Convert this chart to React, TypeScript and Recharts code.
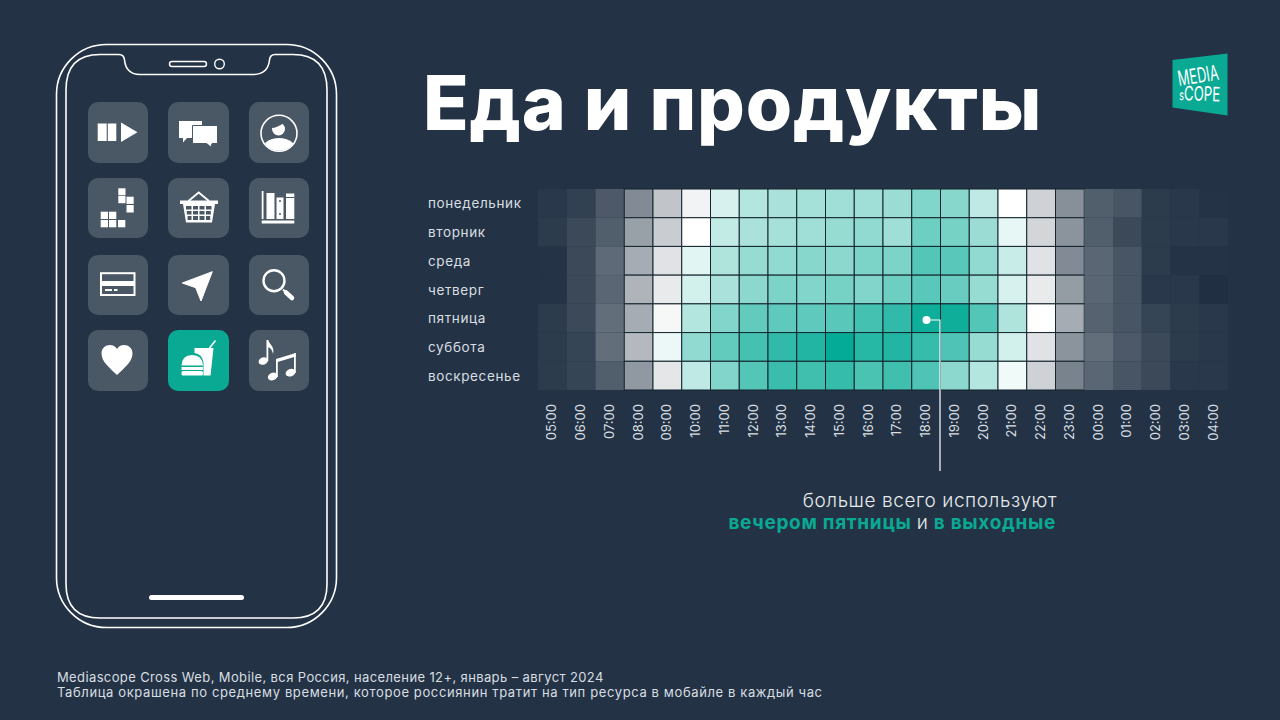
import React from 'react';
import { ScatterChart, Scatter, XAxis, YAxis } from 'recharts';

const hours = ['05:00', '06:00', '07:00', '08:00', '09:00', '10:00', '11:00', '12:00', '13:00', '14:00', '15:00', '16:00', '17:00', '18:00', '19:00', '20:00', '21:00', '22:00', '23:00', '00:00', '01:00', '02:00', '03:00', '04:00'];
const weekdays = ['понедельник', 'вторник', 'среда', 'четверг', 'пятница', 'суббота', 'воскресенье'];

// 0 = dark, 50 = white, 100 = full teal
const monday = [2, 4, 10, 22, 36, 47, 58, 65, 67, 68, 69, 69, 70, 75, 74, 63, 50, 39, 23, 11, 9, 3, 2, 1];
const tuesday = [3, 6, 11, 27, 38, 50, 62, 67, 68, 69, 71, 72, 69, 79, 77, 70, 55, 40, 24, 11, 6, 3, 2, 2];
const wednesday = [1, 6, 14, 30, 43, 56, 66, 71, 72, 74, 73, 76, 76, 84, 83, 72, 61, 43, 22, 13, 9, 3, 1, 1];
const thursday = [1, 6, 13, 32, 45, 59, 67, 73, 76, 75, 77, 75, 79, 83, 80, 71, 58, 45, 26, 13, 9, 2, 2, 0];
const friday = [3, 6, 15, 30, 48, 65, 75, 81, 82, 82, 83, 87, 91, 98, 98, 84, 66, 50, 30, 12, 9, 5, 3, 2];
const saturday = [3, 5, 15, 33, 54, 72, 81, 87, 91, 94, 100, 93, 94, 90, 85, 71, 59, 43, 24, 15, 10, 6, 3, 2];
const sunday = [3, 5, 11, 25, 44, 63, 75, 84, 89, 88, 90, 86, 88, 85, 73, 65, 53, 39, 20, 13, 9, 6, 2, 2];

const rows = [monday, tuesday, wednesday, thursday, friday, saturday, sunday];
const cells = rows.flatMap((row, y) => row.map((value, x) => ({ x, y, value })));

const BG = '#233345';
const TEAL = '#0aa994';
const TILE = '#4a5764';
const CELL_W = 28.75;
const CELL_H = 28.7;
const FONT = 'Inter, "Noto Sans", sans-serif';

const mix = (a: number[], b: number[], t: number) =>
  `rgb(${a.map((c, i) => Math.round(c + (b[i] - c) * t)).join(',')})`;

const cellColor = (v: number) =>
  v <= 50
    ? mix([32, 48, 66], [255, 255, 255], v / 50)
    : mix([255, 255, 255], [4, 171, 150], (v - 50) / 50);

// the dark grid only shows once the cells get lighter
const HeatCell = (props: any) => {
  const fill = cellColor(props.payload.value);
  const lit = props.payload.value >= 20;
  return (
    <rect
      x={props.cx - CELL_W / 2}
      y={props.cy - CELL_H / 2}
      width={CELL_W}
      height={CELL_H}
      fill={fill}
      stroke={lit ? '#16262f' : fill}
      strokeWidth={lit ? 1 : 0}
    />
  );
};

const HourTick = ({ x, payload }: any) => (
  <text
    transform={`translate(${x + 4},404) rotate(-90)`}
    textAnchor="end"
    fontFamily={FONT}
    fontSize={13}
    fill="#d9dee2"
  >
    {hours[payload.value]}
  </text>
);

const DayTick = ({ y, payload }: any) => (
  <text x={428} y={y + 5} fontFamily={FONT} fontSize={13.5} letterSpacing={0.62} fill="#d9dee2">
    {weekdays[payload.value]}
  </text>
);

const Tile = ({ x, y, w = 60, h = 61, fill = TILE }: any) => (
  <rect x={x} y={y} width={w} height={h} rx={10} fill={fill} />
);

const Phone = () => (
  <svg width={1280} height={720} style={{ position: 'absolute', left: 0, top: 0 }}>
    <rect x={56.5} y={44.5} width={280} height={583} rx={50} fill="none" stroke="#fff" strokeWidth={1.6} />
    <path
      d="M100 54.5 H119 Q124 54.5 124.5 60 Q126 74.5 140 74.5 H253 Q268 74.5 269.5 60 Q270 54.5 275 54.5 H293 Q327 54.5 327 90 V584 Q327 618 293 618 H100 Q66 618 66 584 V90 Q66 54.5 100 54.5 Z"
      fill="none"
      stroke="#fff"
      strokeWidth={1.6}
    />
    <rect x={169.5} y={61.5} width={37} height={5} rx={2.5} fill="none" stroke="#fff" strokeWidth={1.4} />
    <circle cx={219.5} cy={64} r={4.8} fill="none" stroke="#fff" strokeWidth={1.4} />
    <rect x={149} y={595} width={95} height={5} rx={2.5} fill="#fff" />

    <Tile x={88} y={102} />
    <Tile x={168} y={102} w={61} />
    <Tile x={249} y={102} />
    <Tile x={88} y={178} h={60} />
    <Tile x={168} y={178} w={61} h={60} />
    <Tile x={249} y={178} h={60} />
    <Tile x={88} y={255} h={60} />
    <Tile x={168} y={255} w={61} h={60} />
    <Tile x={249} y={255} h={60} />
    <Tile x={88} y={330} />
    <Tile x={168} y={330} w={61} fill={TEAL} />
    <Tile x={249} y={330} />

    {/* play */}
    <g fill="#fff">
      <rect x={97.7} y={123.5} width={9} height={17.5} />
      <rect x={107.8} y={123.5} width={8.5} height={17.5} />
      <path d="M121 122.5 L137.5 132.2 L121 142 Z" />
    </g>
    {/* chat */}
    <g>
      <path d="M179 121 H202 V138 H187 L183 142.5 V138 H179 Z" fill="#fff" />
      <path d="M192.5 125.5 H217.5 V143.5 H212 L211 147 L206.5 143.5 H192.5 Z" fill="#fff" stroke={TILE} strokeWidth={1} />
    </g>
    {/* profile */}
    <g>
      <defs>
        <clipPath id="avatar">
          <circle cx={279} cy={133.3} r={17.5} />
        </clipPath>
      </defs>
      <circle cx={279} cy={133.3} r={18} fill="none" stroke="#fff" strokeWidth={1.6} />
      <ellipse cx={279} cy={152} rx={18} ry={14} fill="#fff" clipPath="url(#avatar)" />
      <circle cx={278.5} cy={129} r={6.5} fill="#fff" />
      <path d="M271.5 128 Q277 128 285 122 Q279 119 274 122 Q271 125 271.5 128 Z" fill={TILE} />
    </g>
    {/* blocks */}
    <g fill="#fff">
      <rect x={118.3} y={188.3} width={7.2} height={7} />
      <rect x={118.3} y={196} width={7.2} height={7.2} />
      <rect x={126.5} y={196.7} width={7.2} height={7.2} />
      <rect x={126.5} y={205} width={7.2} height={7.5} />
      <rect x={100.7} y={211.7} width={7.3} height={7.3} />
      <rect x={109} y={211.7} width={7.3} height={7.3} />
      <rect x={100.7} y={220} width={7.3} height={7.3} />
      <rect x={109} y={220} width={7.3} height={7.3} />
      <rect x={118} y={220} width={7.3} height={7.3} />
    </g>
    {/* basket */}
    <g>
      <path d="M188.5 201 L198.7 192.5 L209 201" fill="none" stroke="#fff" strokeWidth={1.8} />
      <rect x={180} y={200.5} width={38} height={3.5} fill="#fff" />
      <path d="M183 204 H215 L212 222.5 H186 Z" fill="#fff" />
      <g fill={TILE}>
        <rect x={186} y={206} width={5.5} height={3.5} />
        <rect x={193} y={206} width={5} height={3.5} />
        <rect x={199.5} y={206} width={5} height={3.5} />
        <rect x={206} y={206} width={5.5} height={3.5} />
        <rect x={186.8} y={211} width={4.7} height={3.5} />
        <rect x={193} y={211} width={5} height={3.5} />
        <rect x={199.5} y={211} width={5} height={3.5} />
        <rect x={206} y={211} width={4.8} height={3.5} />
        <rect x={187.6} y={216} width={3.9} height={4} />
        <rect x={193} y={216} width={5} height={4} />
        <rect x={199.5} y={216} width={5} height={4} />
        <rect x={206} y={216} width={4.2} height={4} />
      </g>
    </g>
    {/* books */}
    <g fill="#fff">
      <rect x={261.7} y={191} width={1.8} height={28} />
      <rect x={266.5} y={193} width={8} height={26} />
      <rect x={276.5} y={197.5} width={7} height={21.5} />
      <rect x={286} y={193.5} width={8.3} height={25.5} />
      <rect x={261.7} y={220.5} width={32.6} height={3} />
      <circle cx={280} cy={201} r={1} fill={TILE} />
      <circle cx={280} cy={214} r={1} fill={TILE} />
      <rect x={286} y={197} width={8.3} height={1} fill={TILE} />
    </g>
    {/* card */}
    <g>
      <rect x={101} y={273.2} width={33.5} height={21.8} fill="none" stroke="#fff" strokeWidth={2} />
      <rect x={101} y={281} width={33.5} height={5} fill="#fff" />
      <rect x={105} y={289} width={7} height={2} fill="#fff" />
      <rect x={114} y={289} width={3.5} height={2} fill="#fff" />
    </g>
    {/* navigation */}
    <path d="M182.3 283 L212.3 271.7 L201 301 L195.7 287.7 Z" fill="#fff" stroke="#fff" strokeLinejoin="round" />
    {/* search */}
    <g fill="none" stroke="#fff">
      <circle cx={274} cy={280.7} r={10.5} strokeWidth={2.4} />
      <path d="M283 289.5 L286 292.5" strokeWidth={2} />
      <path d="M286 292.5 L292 298" strokeWidth={4.5} strokeLinecap="round" />
    </g>
    {/* heart */}
    <path
      d="M117 375 C110 368 101.5 362 101.5 353.5 C101.5 348 105.5 345 110 345 C113 345 115.5 346.5 117 349 C118.5 346.5 121 345 124 345 C128.5 345 132.5 348 132.5 353.5 C132.5 362 124 368 117 375 Z"
      fill="#fff"
    />
    {/* food */}
    <g fill="#fff">
      <path d="M194.5 348 H213.5 L210.5 375.5 H203.5 V362 Q202 354 194.5 353 Z" />
      <path d="M209.5 348 L215.5 340.5" stroke="#fff" strokeWidth={1.6} fill="none" />
      <path d="M181.5 365.5 Q182 355 192 355 Q202.5 355 203 365.5 Z" />
      <rect x={181.5} y={367} width={21.5} height={3} />
      <rect x={181.5} y={371} width={21.5} height={4.5} rx={1.5} />
    </g>
    {/* music */}
    <g fill="#fff">
      <ellipse cx={263.3} cy={361} rx={4.8} ry={3.6} transform="rotate(-20 263.3 361)" />
      <rect x={266.5} y={340} width={1.8} height={21} />
      <path d="M268 340 C270 345 275 347 273 354 C272 349 270 348 268 347 Z" />
      <ellipse cx={272.7} cy={376.5} rx={5} ry={3.7} transform="rotate(-20 272.7 376.5)" />
      <ellipse cx={290.5} cy={372.7} rx={5} ry={3.7} transform="rotate(-20 290.5 372.7)" />
      <rect x={276} y={359} width={1.8} height={18} />
      <rect x={294} y={353} width={1.8} height={20} />
      <path d="M276 359 L295.8 353 V356.5 L276 362.5 Z" />
    </g>
  </svg>
);

const Logo = () => (
  <svg width={1280} height={720} style={{ position: 'absolute', left: 0, top: 0 }}>
    <path d="M1172.5 60 L1227.5 53.5 V115.5 L1172.5 107.5 Z" fill={TEAL} />
    <g fontFamily={FONT} fontWeight={400} fill="#fff">
      <text x={1179} y={86} fontSize={21} textLength={41} lengthAdjust="spacingAndGlyphs" transform="rotate(-9 1179 86)">MEDIA</text>
      <text x={1179} y={100} fontSize={20} textLength={41} lengthAdjust="spacingAndGlyphs" transform="rotate(2 1179 100)">
        <tspan fontSize={14}>s</tspan>COPE
      </text>
    </g>
  </svg>
);

const Callout = () => (
  <svg width={1280} height={720} style={{ position: 'absolute', left: 0, top: 0 }}>
    <circle cx={926.5} cy={320} r={4} fill="#fff" />
    <path d="M926.5 320 H940 V471" fill="none" stroke="#fff" strokeWidth={1.2} />
    <text x={1057} y={507} textAnchor="end" fontFamily={FONT} fontSize={19} letterSpacing={0.58} fontWeight={300} fill="#e8ebee">
      больше всего используют
    </text>
    <text x={1056} y={529} textAnchor="end" fontFamily={FONT} fontSize={19} letterSpacing={0.7} fontWeight={700} fill={TEAL}>
      вечером пятницы <tspan fill="#e8ebee" fontWeight={300}>и</tspan> в выходные
    </text>
    <text x={423} y={130} fontFamily={FONT} fontSize={75} letterSpacing={0.8} fontWeight={800} fill="#fff">
      Еда и продукты
    </text>
    <text x={57} y={681.5} fontFamily={FONT} fontSize={13} letterSpacing={0.38} fill="#d9dee2">
      Mediascope Cross Web, Mobile, вся Россия, население 12+, январь – август 2024
    </text>
    <text x={57} y={697} fontFamily={FONT} fontSize={13} letterSpacing={0.62} fill="#d9dee2">
      Таблица окрашена по среднему времени, которое россиянин тратит на тип ресурса в мобайле в каждый час
    </text>
  </svg>
);

export default function App() {
  return (
    <div style={{ position: 'absolute', left: 0, top: 0, width: 1280, height: 720, background: BG, overflow: 'hidden' }}>
      <Phone />
      <Logo />
      <div style={{ position: 'absolute', left: 0, top: 0 }}>
        <ScatterChart width={1280} height={720} margin={{ top: 189, right: 52, bottom: 280, left: 428 }}>
          <XAxis
            type="number"
            dataKey="x"
            domain={[-0.5, 23.5]}
            ticks={hours.map((_, i) => i)}
            interval={0}
            axisLine={false}
            tickLine={false}
            height={50}
            tick={<HourTick />}
          />
          <YAxis
            type="number"
            dataKey="y"
            domain={[-0.5, 6.5]}
            ticks={weekdays.map((_, i) => i)}
            interval={0}
            reversed
            axisLine={false}
            tickLine={false}
            width={110}
            tick={<DayTick />}
          />
          <Scatter data={cells} shape={<HeatCell />} isAnimationActive={false} />
        </ScatterChart>
      </div>
      <Callout />
    </div>
  );
}
